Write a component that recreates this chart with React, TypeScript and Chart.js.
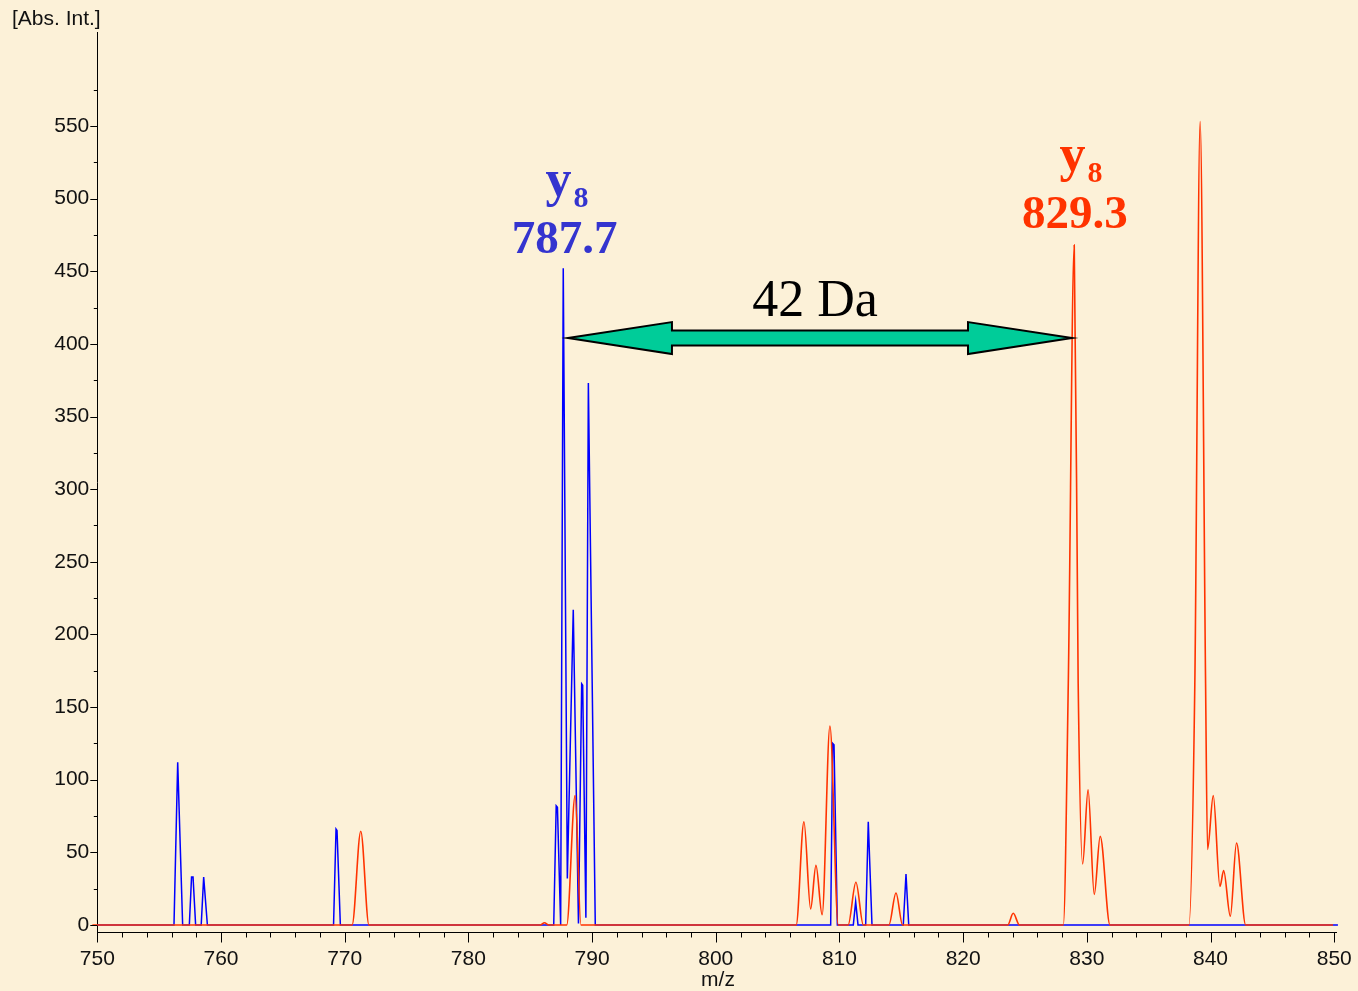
import React, { useEffect, useRef } from 'react';
import { Chart, registerables } from 'chart.js';

Chart.register(...registerables);

// ---- Data ----
const blueMz = [
  750,
  756.2, 756.5, 756.9,
  757.44, 757.62, 757.74, 757.95,
  758.4, 758.6, 758.9,
  769.1, 769.3, 769.38, 769.65,
  786.9, 787.1, 787.2, 787.46,
  787.67, 788.0, 788.48, 788.9, 789.16, 789.24, 789.5, 789.7, 790.26,
  809.29, 809.45, 809.56, 809.83,
  811.12, 811.31, 811.5,
  812.12, 812.33, 812.63,
  815.16, 815.38, 815.6,
  850.3,
];
const blueInt = [
  0,
  0, 112, 0,
  0, 33, 33, 0,
  0, 33, 0,
  0, 66, 65, 0,
  0, 82, 81, 0,
  452, 32, 217, 1, 166, 165, 5, 373, 0,
  0, 125, 124, 0,
  0, 16, 0,
  0, 71, 0,
  0, 35, 0,
  0,
];

const redMz = [
  749.6,
  770.6, 771.3, 771.96,
  785.8, 786.15, 786.5,
  787.95, 788.63, 789.1,
  806.5, 807.13, 807.67, 808.1, 808.6, 809.23, 809.9,
  810.7, 811.33, 811.93,
  814.0, 814.57, 815.1,
  823.6, 824.05, 824.55,
  828.1, 828.5, 828.98, 829.3, 829.66, 830.1, 830.6, 831.08, 831.87,
  838.25, 838.73, 839.16, 839.6, 839.76, 840.22, 840.76, 841.06, 841.6, 842.1, 842.84,
  849.9,
];
const redInt = [
  0,
  0, 64.5, 0,
  0, 1.5, 0,
  0, 89, 0,
  0, 71, 11, 41, 7, 137, 0,
  0, 29.4, 0,
  0, 22, 0,
  0, 8, 0,
  0, 166, 468, 166, 42, 93, 21, 61, 0,
  0, 166, 553, 166, 52, 89, 26.5, 37.4, 6, 56.4, 0,
  0,
];

const xTickValues = [
  750, 752, 754, 756, 758, 760, 762, 764, 766, 768, 770, 772, 774, 776, 778,
  780, 782, 784, 786, 788, 790, 792, 794, 796, 798, 800, 802, 804, 806, 808,
  810, 812, 814, 816, 818, 820, 822, 824, 826, 828, 830, 832, 834, 836, 838,
  840, 842, 844, 846, 848, 850,
];
const yTickValues = [
  0, 25, 50, 75, 100, 125, 150, 175, 200, 225, 250, 275, 300, 325, 350, 375,
  400, 425, 450, 475, 500, 525, 550, 575,
];
const xLabelEvery = 10;
const yLabelEvery = 50;

// annotation anchors (data coordinates)
const blueIon = { ion: 'y', sub: '8', mass: '787.7', x: 787.98, massX: 787.78, ionBase: 501.8, massBase: 462.6 };
const redIon = { ion: 'y', sub: '8', mass: '829.3', x: 829.52, massX: 829.03, ionBase: 519.0, massBase: 479.8 };
const deltaLabel = { text: '42 Da', x: 808.02, base: 419.2 };
const arrowSpan = { from: 788.05, to: 828.8, at: 404 };

const SANS = '"Liberation Sans", Arial, Helvetica, sans-serif';
const SERIF = '"Liberation Serif", "Times New Roman", serif';
const BLUE_TXT = '#3434CF';
const RED_TXT = '#FF3300';

const decorPlugin = {
  id: 'decor',
  afterDraw(chart: any) {
    const { ctx, chartArea, scales } = chart;
    const x = scales.x;
    const y = scales.y;
    ctx.save();
    ctx.strokeStyle = '#000';
    ctx.lineWidth = 1;
    // y tick marks
    for (const v of yTickValues) {
      const py = Math.round(y.getPixelForValue(v)) + 0.5;
      const len = v % yLabelEvery === 0 ? 7 : 3.5;
      ctx.beginPath();
      ctx.moveTo(chartArea.left - len, py);
      ctx.lineTo(chartArea.left, py);
      ctx.stroke();
    }
    // x tick marks
    for (const v of xTickValues) {
      const px = Math.round(x.getPixelForValue(v)) + 0.5;
      const len = v % xLabelEvery === 0 ? 10 : 5;
      ctx.beginPath();
      ctx.moveTo(px, chartArea.bottom);
      ctx.lineTo(px, chartArea.bottom + len);
      ctx.stroke();
    }

    // axis titles
    ctx.fillStyle = '#111';
    ctx.font = '21px ' + SANS;
    ctx.textBaseline = 'alphabetic';
    ctx.textAlign = 'left';
    ctx.fillText('[Abs. Int.]', 12, 25);
    ctx.textAlign = 'center';
    ctx.fillText('m/z', (chartArea.left + chartArea.right) / 2 + 1, 986);

    // double arrow
    const xl = x.getPixelForValue(arrowSpan.from);
    const xr = x.getPixelForValue(arrowSpan.to);
    const yc = y.getPixelForValue(arrowSpan.at);
    const hl = 104, hh = 16, sh = 7.5;
    ctx.beginPath();
    ctx.moveTo(xl, yc);
    ctx.lineTo(xl + hl, yc - hh);
    ctx.lineTo(xl + hl, yc - sh);
    ctx.lineTo(xr - hl, yc - sh);
    ctx.lineTo(xr - hl, yc - hh);
    ctx.lineTo(xr, yc);
    ctx.lineTo(xr - hl, yc + hh);
    ctx.lineTo(xr - hl, yc + sh);
    ctx.lineTo(xl + hl, yc + sh);
    ctx.lineTo(xl + hl, yc + hh);
    ctx.closePath();
    ctx.fillStyle = '#00CC99';
    ctx.fill();
    ctx.lineWidth = 2;
    ctx.lineJoin = 'miter';
    ctx.strokeStyle = '#000';
    ctx.stroke();

    // 42 Da
    ctx.fillStyle = '#000';
    ctx.font = '52px ' + SERIF;
    ctx.textAlign = 'center';
    ctx.fillText(deltaLabel.text, x.getPixelForValue(deltaLabel.x), y.getPixelForValue(deltaLabel.base));

    // ion labels
    const drawIon = (lab: any, color: string) => {
      ctx.fillStyle = color;
      ctx.textAlign = 'center';
      ctx.font = 'bold 47px ' + SERIF;
      ctx.fillText(lab.mass, x.getPixelForValue(lab.massX), y.getPixelForValue(lab.massBase));
      ctx.font = 'bold 52px ' + SERIF;
      const wy = ctx.measureText(lab.ion).width;
      ctx.font = 'bold 30px ' + SERIF;
      const ws = ctx.measureText(lab.sub).width;
      const cx = x.getPixelForValue(lab.x);
      const base = y.getPixelForValue(lab.ionBase);
      const start = cx - (wy + ws + 2) / 2;
      ctx.textAlign = 'left';
      ctx.font = 'bold 52px ' + SERIF;
      ctx.fillText(lab.ion, start, base);
      ctx.font = 'bold 30px ' + SERIF;
      ctx.fillText(lab.sub, start + wy + 2, base + 10.5);
    };
    drawIon(blueIon, BLUE_TXT);
    drawIon(redIon, RED_TXT);
    ctx.restore();
  },
};

export default function App() {
  const ref = useRef<HTMLCanvasElement | null>(null);
  useEffect(() => {
    if (!ref.current) return;
    const red = redMz.map((m, i) => ({ x: m, y: redInt[i] }));
    const blue = blueMz.map((m, i) => ({ x: m, y: blueInt[i] }));
    const chart = new Chart(ref.current, {
      type: 'line',
      data: {
        datasets: [
          {
            label: 'heavy',
            data: red,
            borderColor: '#FF3300',
            borderWidth: 1.6,
            pointRadius: 0,
            cubicInterpolationMode: 'monotone',
            fill: false,
            clip: false,
          } as any,
          {
            label: 'light',
            data: blue,
            borderColor: '#0000FF',
            borderWidth: 1.5,
            pointRadius: 0,
            tension: 0,
            fill: false,
            clip: false,
          } as any,
        ],
      },
      options: {
        animation: false,
        responsive: false,
        devicePixelRatio: 1,
        layout: { padding: { top: 32, right: 21.3, left: 0, bottom: 0 } },
        plugins: { legend: { display: false }, tooltip: { enabled: false } },
        events: [],
        scales: {
          x: {
            type: 'linear',
            min: 750,
            max: 850.2,
            grid: { display: false, drawTicks: false },
            border: { display: true, color: '#000', width: 1 },
            afterBuildTicks: (scale: any) => {
              scale.ticks = xTickValues.map((v) => ({ value: v }));
            },
            afterFit: (scale: any) => {
              scale.height = 58.5;
              scale.paddingLeft = 0;
              scale.paddingRight = 0;
            },
            ticks: {
              autoSkip: false,
              maxRotation: 0,
              padding: 14,
              color: '#111',
              font: { family: SANS, size: 21 },
              callback: (v: any) => (Number(v) % xLabelEvery === 0 ? String(v) : ''),
            },
          },
          y: {
            type: 'linear',
            min: -5.2,
            max: 614.7,
            grid: { display: false, drawTicks: false },
            border: { display: true, color: '#000', width: 1 },
            afterBuildTicks: (scale: any) => {
              scale.ticks = yTickValues.map((v) => ({ value: v }));
            },
            afterFit: (scale: any) => {
              scale.width = 97.3;
              scale.paddingTop = 0;
              scale.paddingBottom = 0;
            },
            ticks: {
              autoSkip: false,
              padding: 8,
              color: '#111',
              font: { family: SANS, size: 21 },
              callback: (v: any) => (Number(v) % yLabelEvery === 0 ? String(v) : ''),
            },
          },
        },
      } as any,
      plugins: [decorPlugin],
    });
    return () => chart.destroy();
  }, []);

  return (
    <div
      style={{
        position: 'absolute',
        left: 0,
        top: 0,
        width: 1358,
        height: 991,
        background: '#FCF1D8',
        overflow: 'hidden',
      }}
    >
      <canvas ref={ref} width={1358} height={991} style={{ display: 'block' }} />
    </div>
  );
}
